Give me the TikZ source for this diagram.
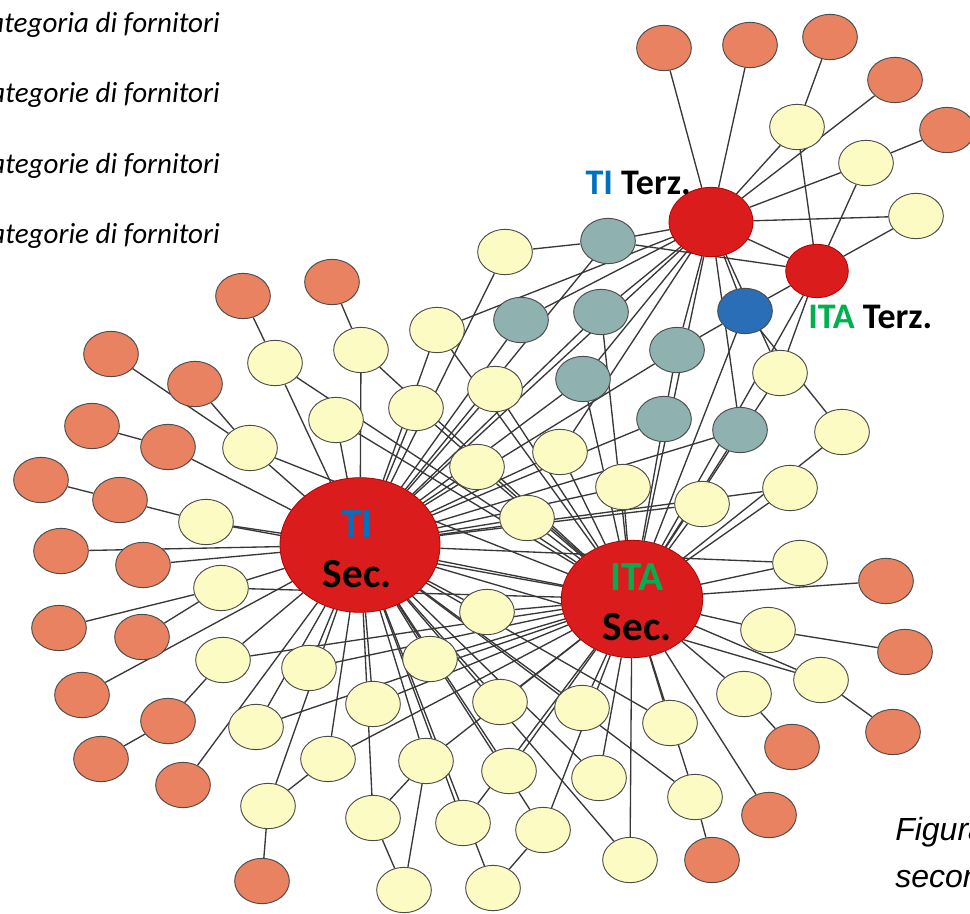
\documentclass[tikz,border=0pt]{standalone}
\usepackage{fontspec}
\setmainfont{Carlito}
\newfontfamily\capfont{Liberation Sans}
\usetikzlibrary{shapes.geometric,backgrounds}

\definecolor{hubRed}{RGB}{218,28,28}
\definecolor{supOrange}{RGB}{232,130,96}
\definecolor{supYellow}{RGB}{253,251,196}
\definecolor{supTeal}{RGB}{143,177,175}
\definecolor{supBlue}{RGB}{42,110,184}
\definecolor{tiBlue}{RGB}{0,112,192}
\definecolor{itaGreen}{RGB}{0,176,80}

\newcommand\smallW{41pt}
\newcommand\smallH{34pt}

\tikzset{
  sup/.style={ellipse, draw=black!70, line width=0.7pt, minimum width=\smallW, minimum height=\smallH, inner sep=0pt},
  orangeSup/.style={sup, fill=supOrange},
  yellowSup/.style={sup, fill=supYellow},
  tealSup/.style={sup, fill=supTeal},
  blueSup/.style={sup, fill=supBlue},
  hub/.style={ellipse, draw=red!70!black, line width=0.6pt, fill=hubRed, inner sep=0pt},
  hubLabel/.style={font=\fontsize{27}{37.5}\selectfont\bfseries, text=black, align=center},
  secLabel/.style={hubLabel, font=\fontsize{31}{37.5}\selectfont\bfseries},
  catText/.style={font=\fontsize{21.8}{26}\selectfont\itshape, anchor=base east, inner sep=0pt},
  figText/.style={font=\capfont\itshape\fontsize{24}{28}\selectfont, anchor=base west, inner sep=0pt},
  link/.style={draw=black!78, line width=1pt}
}

\begin{document}
\begin{tikzpicture}[x=0.75pt, y=-0.75pt]
  \useasboundingbox (0,0) rectangle (970,913);
  \clip (0,0) rectangle (970,913);

  \node[hub, minimum width=120pt, minimum height=101pt] (tis) at (360,545) {};
  \node[hub, minimum width=106pt, minimum height=88pt] (ias) at (632,599) {};
  \node[hub, minimum width=63pt, minimum height=52pt] (tit) at (711,222) {};
  \node[hub, minimum width=47pt, minimum height=40pt] (iat) at (817,271) {};
  \node[blueSup] (blu) at (745,311) {};

  \foreach \nName/\xPos/\yPos in {t1/608/241, t2/521/320, t3/601/312, t4/677/350,
      t5/583/379, t6/664/419, t7/740/430}{
    \node[tealSup] (\nName) at (\xPos,\yPos) {};
  }

  \foreach \nName/\xPos/\yPos in {o1/664/48, o2/750/45, o3/830/37, o4/895/80, o5/947/130,
      o6/243/296, o7/332/282, o8/111/354, o9/195/384, o10/92/426, o11/168/447,
      o12/41/480, o13/120/500, o14/61/551, o15/143/565, o16/59/628, o17/142/637,
      o18/82/695, o19/168/721, o20/101/759, o21/183/785, o22/262/881,
      o23/886/581, o24/905/652, o25/893/732, o26/792/747, o27/769/815, o28/712/860}{
    \node[orangeSup] (\nName) at (\xPos,\yPos) {};
  }

  \foreach \nName/\xPos/\yPos in {y1/797/127, y2/866/163, y3/916/216, y4/505/252,
      y5/275/363, y6/361/350, y7/437/330, y8/336/420, y9/416/408, y10/495/389,
      y11/250/448, y12/477/467, y13/206/522, y14/221/588, y15/487/612,
      y16/780/373, y17/842/432, y18/560/452, y19/623/487, y20/790/488,
      y21/702/504, y22/527/518, y23/800/563, y24/768/630, y25/821/680,
      y26/744/694, y27/500/702, y28/582/708, y29/670/723, y30/509/771,
      y31/599/778, y32/695/797, y33/463/823, y34/543/830, y35/630/860,
      y36/493/888, y37/223/660, y38/309/668, y39/430/659, y40/373/704,
      y41/256/727, y42/328/759, y43/426/761, y44/268/806, y45/373/818, y46/404/890}{
    \node[yellowSup] (\nName) at (\xPos,\yPos) {};
  }

  \begin{pgfonlayer}{background}
    \fill[white] (0,0) rectangle (970,913);
    \foreach \from/\to in {tis/ias, tit/tis, tit/ias, iat/ias, tit/iat,
        o1/tit, o2/tit, o3/y1, o4/tit, o5/y2,
        y1/tit, y1/iat, y2/tit, y2/iat, y3/tit, y3/iat,
        t1/tit, t1/iat, t1/tis, y4/t1, y4/tis,
        t2/tit, t2/tis, t3/tit, t3/tis, t3/ias,
        t4/tit, t4/blu, t4/t6, t4/tis, t5/tit, t5/tis, t5/ias,
        t6/tis, t6/ias, t7/tit, t7/tis, t7/ias,
        blu/tit, blu/iat, blu/ias, blu/y17, tit/y7, tit/y18,
        o6/y5, o7/y6, o8/y11, o9/y11, o10/o11, o11/tis, o12/o13, o13/y13,
        o14/tis, o15/tis, o16/y14, o17/y14, o18/tis, o20/o19, o19/y37,
        o21/tis, o22/y44, o23/ias, o24/y24, o25/y25, o26/y26, o27/ias, o28/y32,
        y5/tis, y5/ias, y6/tis, y6/ias, y7/tis, y7/ias, y8/tis, y8/ias,
        y9/tis, y9/ias, y10/tis, y10/ias, y11/tis, y11/ias, y12/tis, y12/ias,
        y13/tis, y13/ias, y14/tis, y14/ias, y15/tis, y15/ias,
        y16/tit, y16/iat, y16/ias, y17/ias,
        y18/tis, y18/ias, y19/tis, y19/ias, y20/tis, y20/ias, y21/tis, y21/ias,
        y22/tis, y22/ias, y23/ias, y23/tis, y24/ias, y25/ias, y25/tis, y26/ias,
        y27/tis, y27/ias, y28/tis, y28/ias, y29/tis, y29/ias, y30/tis, y30/ias,
        y31/tis, y31/ias, y32/ias, y32/tis, y33/tis, y33/ias, y34/tis, y34/ias,
        y35/ias, y35/tis, y36/tis, y36/y34,
        y37/tis, y37/ias, y38/tis, y38/ias, y39/tis, y39/ias, y40/tis, y40/ias,
        y41/tis, y41/ias, y42/tis, y42/ias, y43/tis, y43/ias,
        y44/tis, y44/y42, y45/tis, y45/y43, y46/y45, y46/y43}{
      \draw[link] (\from) -- (\to);
    }
  \end{pgfonlayer}

  \node[secLabel] (tisText) at (357,549) {\textcolor{tiBlue}{TI}\\Sec.};
  \node[secLabel] (iasText) at (637,602) {\textcolor{itaGreen}{ITA}\\Sec.};
  \node[hubLabel, anchor=base east, inner sep=0pt] (titText) at (691,195) {\textcolor{tiBlue}{TI} Terz.};
  \node[hubLabel, anchor=base west, inner sep=0pt] (iatText) at (808,328) {\textcolor{itaGreen}{ITA} Terz.};

  \node[catText] (cat1) at (220,33) {ategoria di fornitori};
  \node[catText] (cat2) at (220,103) {ategorie di fornitori};
  \node[catText] (cat3) at (220,173) {ategorie di fornitori};
  \node[catText] (cat4) at (220,243) {ategorie di fornitori};

  \node[figText] (fig1) at (895,840) {Figura};
  \node[figText] (fig2) at (895,887) {secon};
\end{tikzpicture}
\end{document}
